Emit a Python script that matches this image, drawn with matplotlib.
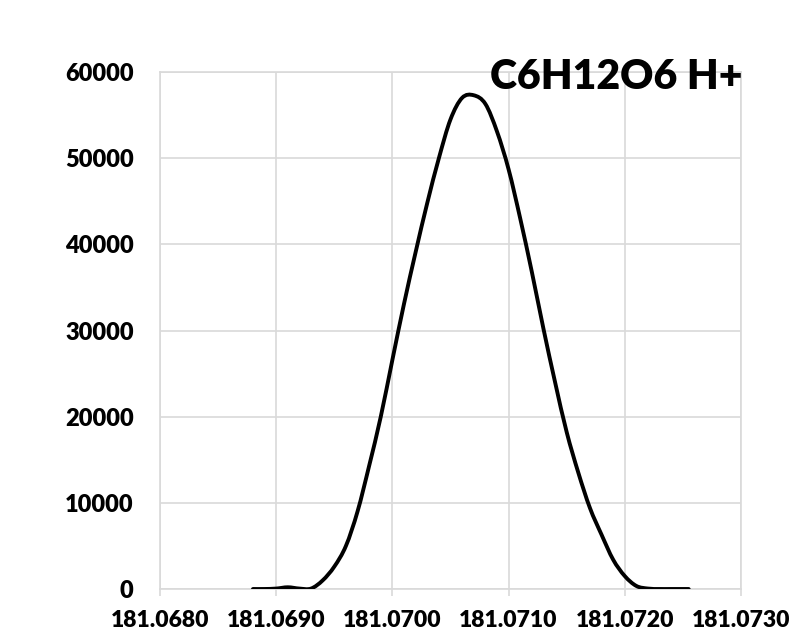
import matplotlib
matplotlib.use("Agg")
import numpy as np
import matplotlib.pyplot as plt
from matplotlib.path import Path
from matplotlib.patches import PathPatch

# points (m/z, intensite)
mz = [181.0688, 181.0689, 181.0690, 181.0691, 181.0692, 181.0693,
      181.0694, 181.0695, 181.0696, 181.0697, 181.0698, 181.0699,
      181.0700, 181.0701, 181.0702, 181.0703, 181.0704, 181.0705,
      181.0706, 181.0707, 181.0708, 181.0709, 181.0710, 181.0711,
      181.0712, 181.0713, 181.0714, 181.0715, 181.0716, 181.0717,
      181.0718, 181.0719, 181.0720, 181.0721, 181.0722, 181.0723,
      181.0724, 181.07255]
intensite = [0, 0, 50, 200, 50, 50,
             1000, 2600, 5000, 9000, 14300, 20000,
             26600, 33100, 39100, 44800, 50000, 54500,
             57000, 57300, 56300, 53100, 48700, 43000,
             36800, 30200, 24000, 18200, 13500, 9400,
             6300, 3400, 1500, 350, 50, 0,
             0, 0]

xticks = [181.0680, 181.0690, 181.0700, 181.0710, 181.0720, 181.0730]
yticks = [0, 10000, 20000, 30000, 40000, 50000, 60000]
titre = "C6H12O6 H+"


# ligne lissee (comme Excel) : Catmull-Rom -> Bezier, passe par les points
def lissage(x, y):
    p = np.column_stack([x, y])
    verts = [p[0]]
    codes = [Path.MOVETO]
    for i in range(len(p) - 1):
        p0 = p[i - 1] if i > 0 else p[i]
        p3 = p[i + 2] if i + 2 < len(p) else p[i + 1]
        c1 = p[i] + (p[i + 1] - p0) / 6
        c2 = p[i + 1] - (p3 - p[i]) / 6
        verts += [c1, c2, p[i + 1]]
        codes += [Path.CURVE4] * 3
    return Path(verts, codes)


plt.rcParams['font.family'] = ['Lato', 'DejaVu Sans']

fig = plt.figure(figsize=(7.91, 6.31), dpi=100)
ax = fig.add_axes([160/791, 42/631, 581/791, 517/631])

grille = '#d9d9d9'
ax.add_patch(PathPatch(lissage(mz, intensite), fill=False, ec='black',
                       lw=2.8, capstyle='round', zorder=3))

ax.set_xlim(181.0680, 181.0730)
ax.set_ylim(0, 60000)
ax.set_xticks(xticks)
ax.set_xticklabels(['%.4f' % v for v in xticks])
ax.set_yticks(yticks)
ax.set_yticklabels([str(v) for v in yticks])
ax.grid(True, color=grille, lw=1.2)
ax.set_axisbelow(True)
for s in ax.spines.values():
    s.set_color(grille)
    s.set_linewidth(1.2)

ax.tick_params(axis='x', length=5, width=1.2, color=grille, pad=10,
               labelsize=16.5)
ax.tick_params(axis='y', length=0, pad=19, labelsize=17)
for lab in ax.get_xticklabels() + ax.get_yticklabels():
    lab.set_fontweight('heavy')

fig.text(742/791, 1 - 77/631, titre, ha='right', va='center',
         fontsize=29.5, fontweight='heavy')

fig.savefig('out.png', dpi=100)
